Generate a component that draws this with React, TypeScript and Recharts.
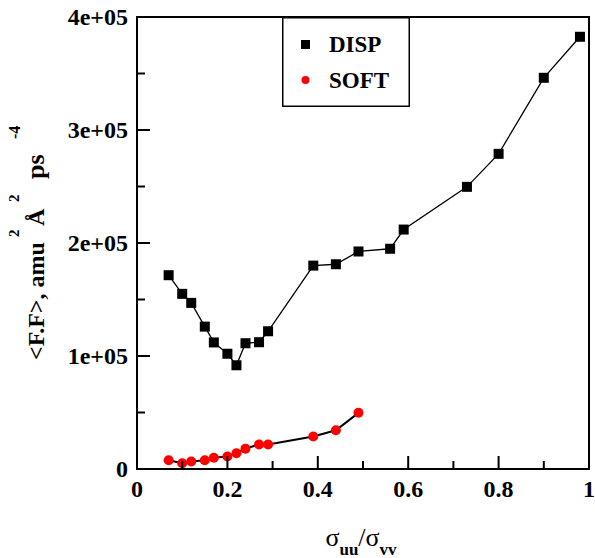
import { Label, Legend, ReferenceArea, Scatter, ScatterChart, XAxis, YAxis } from "recharts";

const FONT = "Liberation Serif";
const txt = { fontFamily: FONT, fontWeight: "bold" as const };

const dispX = [0.07, 0.1, 0.12, 0.15, 0.17, 0.2, 0.22, 0.24, 0.27, 0.29, 0.39, 0.44, 0.49, 0.56, 0.59, 0.73, 0.8, 0.9, 0.98];
const dispY = [171500, 155000, 147000, 126000, 112000, 102000, 91800, 111300, 112200, 121900, 180000, 181200, 192500, 194900, 211900, 249700, 278900, 346200, 382500];

const softX = [0.07, 0.1, 0.12, 0.15, 0.17, 0.2, 0.22, 0.24, 0.27, 0.29, 0.39, 0.44, 0.49];
const softY = [7800, 5100, 6600, 7800, 9900, 11000, 14000, 18000, 21700, 21700, 28800, 34300, 49700];

const xTicks = [0, 0.1, 0.2, 0.3, 0.4, 0.5, 0.6, 0.7, 0.8, 0.9, 1];
const xMajor = ["0", "0.2", "0.4", "0.6", "0.8", "1"];
const yTicks = [0, 50000, 100000, 150000, 200000, 250000, 300000, 350000, 400000];
const yMajor = ["0", "1e+05", "2e+05", "3e+05", "4e+05"];

const disp = dispX.map((x, i) => ({ x, y: dispY[i] }));
const soft = softX.map((x, i) => ({ x, y: softY[i] }));

function XTick(props: any) {
  const { x, y, index } = props;
  const major = index % 2 === 0;
  return (
    <g>
      <line x1={x} y1={y} x2={x} y2={y - (major ? 13 : 8)} stroke="#000" strokeWidth={2} />
      {major && (
        <text x={x} y={y + 28} textAnchor="middle" style={txt} fontSize={24} fill="#000">
          {xMajor[index / 2]}
        </text>
      )}
    </g>
  );
}

function YTick(props: any) {
  const { x, y, index } = props;
  const major = index % 2 === 0;
  return (
    <g>
      <line x1={x} y1={y} x2={x + (major ? 13 : 8)} y2={y} stroke="#000" strokeWidth={2} />
      {major && (
        <text x={x - 9} y={y + 8} textAnchor="end" style={txt} fontSize={24} fill="#000">
          {yMajor[index / 2]}
        </text>
      )}
    </g>
  );
}

const squareShape = (p: any) => <rect x={p.cx - 5} y={p.cy - 5} width={10} height={10} fill="#000" />;
const circleShape = (p: any) => <circle cx={p.cx} cy={p.cy} r={5} fill="#ff0000" />;

function LegendBox() {
  return (
    <svg width={128} height={90} style={{ display: "block" }}>
      <rect x={0.75} y={0.75} width={126.5} height={88.5} fill="#fff" stroke="#000" strokeWidth={1.5} />
      <rect x={19} y={23} width={9} height={9} fill="#000" />
      <text x={47} y={35} style={txt} fontSize={23} fill="#000">DISP</text>
      <circle cx={23.5} cy={63} r={4} fill="#ff0000" />
      <text x={47} y={71} style={txt} fontSize={23} fill="#000">SOFT</text>
    </svg>
  );
}

function XLabel(props: any) {
  const { viewBox } = props;
  const cx = viewBox.x + viewBox.width / 2 - 2;
  const base = viewBox.y + 77;
  return (
    <text x={cx} y={base} textAnchor="middle" style={{ fontFamily: FONT }} fill="#000">
      <tspan fontSize={26}>σ</tspan>
      <tspan fontSize={17} fontWeight="bold" dy={9}>uu</tspan>
      <tspan fontSize={26} dy={-9}>/σ</tspan>
      <tspan fontSize={17} fontWeight="bold" dy={9}>vv</tspan>
    </text>
  );
}

function YLabel() {
  return (
    <g transform="translate(44,360) rotate(-90)">
      <text style={txt} fill="#000">
        <tspan x={0} y={0} fontSize={24}>{"<F.F>, amu"}</tspan>
        <tspan x={123} y={-25} fontSize={15}>2</tspan>
        <tspan x={134} y={0} fontSize={24}>Å</tspan>
        <tspan x={158} y={-25} fontSize={15}>2</tspan>
        <tspan x={181} y={0} fontSize={26}>ps</tspan>
        <tspan x={221} y={-24} fontSize={16}>-4</tspan>
      </text>
    </g>
  );
}

export default function App() {
  return (
    <div style={{ width: 595, height: 558, background: "#fff" }}>
      <style>{"body{margin:0}"}</style>
      <ScatterChart width={595} height={558} margin={{ top: 17, right: 6, bottom: 0, left: 0 }}>
        <XAxis
          type="number"
          dataKey="x"
          domain={[0, 1]}
          ticks={xTicks}
          interval={0}
          tick={<XTick />}
          tickLine={false}
          axisLine={false}
          tickSize={0}
          tickMargin={0}
          height={89}
        >
          <Label content={<XLabel />} />
        </XAxis>
        <YAxis
          type="number"
          dataKey="y"
          domain={[0, 400000]}
          ticks={yTicks}
          interval={0}
          tick={<YTick />}
          tickLine={false}
          axisLine={false}
          tickSize={0}
          tickMargin={0}
          width={137}
        >
          <Label content={<YLabel />} />
        </YAxis>
        <ReferenceArea x1={0} x2={1} y1={0} y2={400000} fill="none" stroke="#000" strokeWidth={2} />
        <Scatter
          name="DISP"
          data={disp}
          line={{ stroke: "#000", strokeWidth: 1.3 }}
          shape={squareShape}
          isAnimationActive={false}
        />
        <Scatter
          name="SOFT"
          data={soft}
          line={{ stroke: "#000", strokeWidth: 2 }}
          shape={circleShape}
          isAnimationActive={false}
        />
        <Legend
          layout="vertical"
          align="center"
          verticalAlign="middle"
          content={<LegendBox />}
          wrapperStyle={{ left: 282, top: 17, width: 128, height: 90 }}
        />
      </ScatterChart>
    </div>
  );
}
